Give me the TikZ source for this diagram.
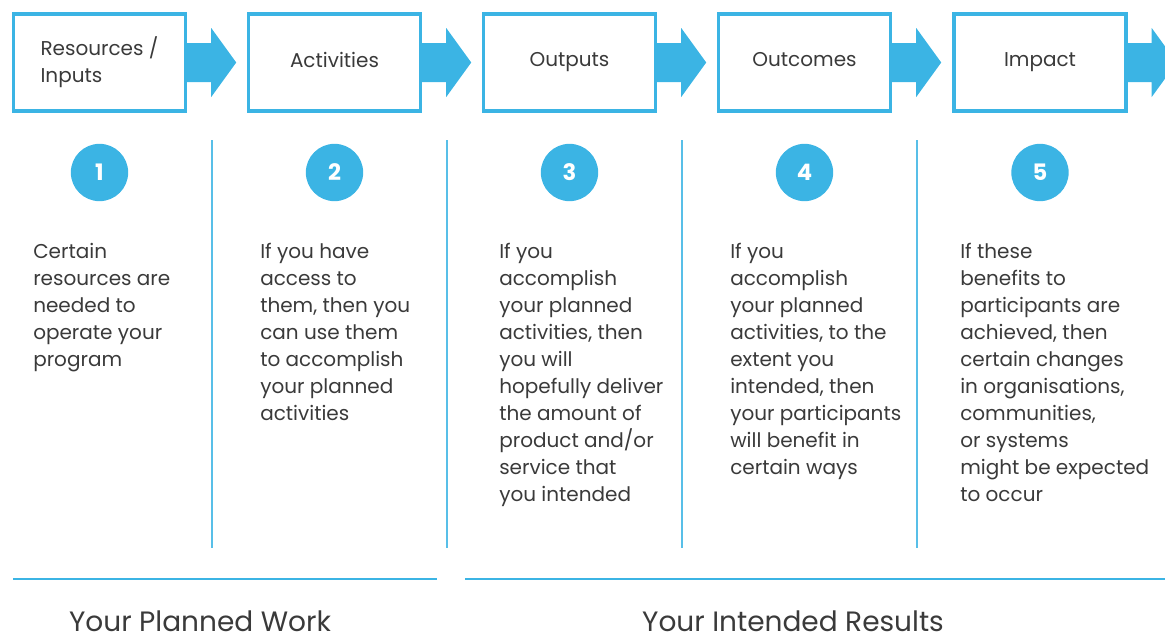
\documentclass[tikz,border=0pt]{standalone}
\usepackage{fontspec}
\setmainfont{Poppins}
\usepackage{xcolor}
\usepackage{tikz}
\usetikzlibrary{positioning,calc}
\definecolor{logicblue}{HTML}{3BB4E4}
\definecolor{logictext}{HTML}{3A3A3A}

\begin{document}
\begin{tikzpicture}[
    x=0.75pt, y=-0.75pt,
    stage/.style={rectangle, draw=logicblue, line width=2.6pt, minimum width=129pt, minimum height=73pt, font=\fontsize{15}{20.25}\selectfont, text=logictext, align=left, execute at begin node={\vphantom{Ay}}},
    num/.style={circle, fill=logicblue, text=white, minimum size=43pt, inner sep=0pt, font=\fontsize{17}{20}\selectfont\bfseries},
    desc/.style={anchor=north west, inner sep=0pt, text=logictext, align=left, font=\fontsize{15}{20.25}\selectfont},
    divider/.style={draw=logicblue!85, line width=1.5pt},
    band/.style={draw=logicblue, line width=2.2pt},
    foot/.style={text=logictext, inner sep=1pt, font=\fontsize{21}{25}\selectfont}
]
\useasboundingbox (0,0) rectangle (1165,639);
\clip (0,0) rectangle (1165,639);

% stages along the top
\node[stage] (s1) at (99.5,62.5) {Resources /\\Inputs};
\node[stage] (s2) at (334.5,62.5) {Activities};
\node[stage] (s3) at (569.5,62.5) {Outputs};
\node[stage] (s4) at (804.5,62.5) {Outcomes};
\node[stage] (s5) at (1040,62.5) {Impact};

% block arrows out of each stage
\foreach \s in {1,...,5}
    \fill[logicblue] ($(s\s.east)+(-2,-19.5)$) -- ++(26,0) -- ++(0,-15) -- ++(25,34.5) -- ++(-25,34.5) -- ++(0,-15) -- ++(-26,0) -- cycle;

% numbered circles
\node[num, below=23pt of s1] (n1) {1};
\node[num, below=23pt of s2] (n2) {2};
\node[num, below=23pt of s3] (n3) {3};
\node[num, below=23pt of s4] (n4) {4};
\node[num, below=23pt of s5] (n5) {5};

% column dividers
\foreach \s in {1,...,4}
    \draw[divider] ($(s\s.east)+(25,77.5)$) -- ($(s\s.east)+(25,485.5)$);

% descriptions
\node[desc] (t1) at (33,243) {Certain\\resources are\\needed to\\operate your\\program};
\node[desc] (t2) at (260,243) {If you have\\access to\\them, then you\\can use them\\to accomplish\\your planned\\activities};
\node[desc] (t3) at (499,243) {If you\\accomplish\\your planned\\activities, then\\you will\\hopefully deliver\\the amount of\\product and/or\\service that\\you intended};
\node[desc] (t4) at (730,243) {If you\\accomplish\\your planned\\activities, to the\\extent you\\intended, then\\your participants\\will benefit in\\certain ways};
\node[desc] (t5) at (960,243) {If these\\benefits to\\participants are\\achieved, then\\certain changes\\in organisations,\\communities,\\or systems\\might be expected\\to occur};

% bottom bands
\draw[band] (13,579) -- (437,579);
\draw[band] (465,579) -- (1165,579);
\node[foot] (planned) at (200,621) {Your Planned Work};
\node[foot] (results) at (793,621) {Your Intended Results};

\end{tikzpicture}
\end{document}
